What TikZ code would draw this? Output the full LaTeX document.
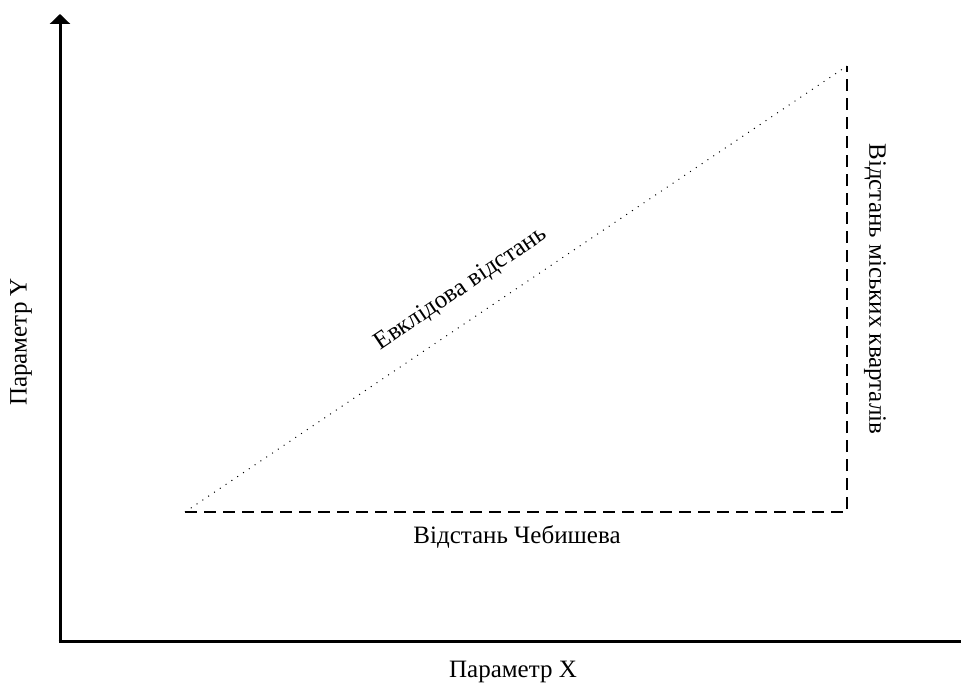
\documentclass[tikz,border=0pt]{standalone}
\usepackage{fontspec}
\setmainfont{Liberation Serif}
\usetikzlibrary{arrows.meta}
\tikzset{
  axis/.style={line width=3pt},
  dashln/.style={line width=2pt, dash pattern=on 12pt off 7pt},
  dotln/.style={line width=1pt, dash pattern=on 1pt off 6pt},
  lbl/.style={font=\fontsize{25}{28}\selectfont, inner sep=0pt}
}
\begin{document}
\begin{tikzpicture}[x=1pt,y=-1pt]
\useasboundingbox (0,0) rectangle (961,684);
\coordinate (O) at (60,641);
\coordinate (ytop) at (60,14);
\coordinate (xend) at (961,641);
\coordinate (A) at (185,512);
\coordinate (B) at (847,512);
\coordinate (C) at (847,66);
\draw[axis,-{Triangle[width=20pt,length=10pt]}] (O) -- (ytop);
\draw[axis] ([xshift=-1.5pt]O) -- (xend);
\draw[dashln] (A) -- (B) -- (C);
\draw[dotln] (A) -- (C);
\node[lbl, anchor=base] (lx) at (513,677) {Параметр X};
\node[lbl, rotate=90] (ly) at (21,342) {Параметр Y};
\node[lbl] (lc) at (517,537) {Відстань Чебишева};
\node[lbl, rotate=-90] (lm) at (875,289) {Відстань міських кварталів};
\node[lbl, rotate=33.95] (le) at (461,289) {Евклідова відстань};
\end{tikzpicture}
\end{document}
